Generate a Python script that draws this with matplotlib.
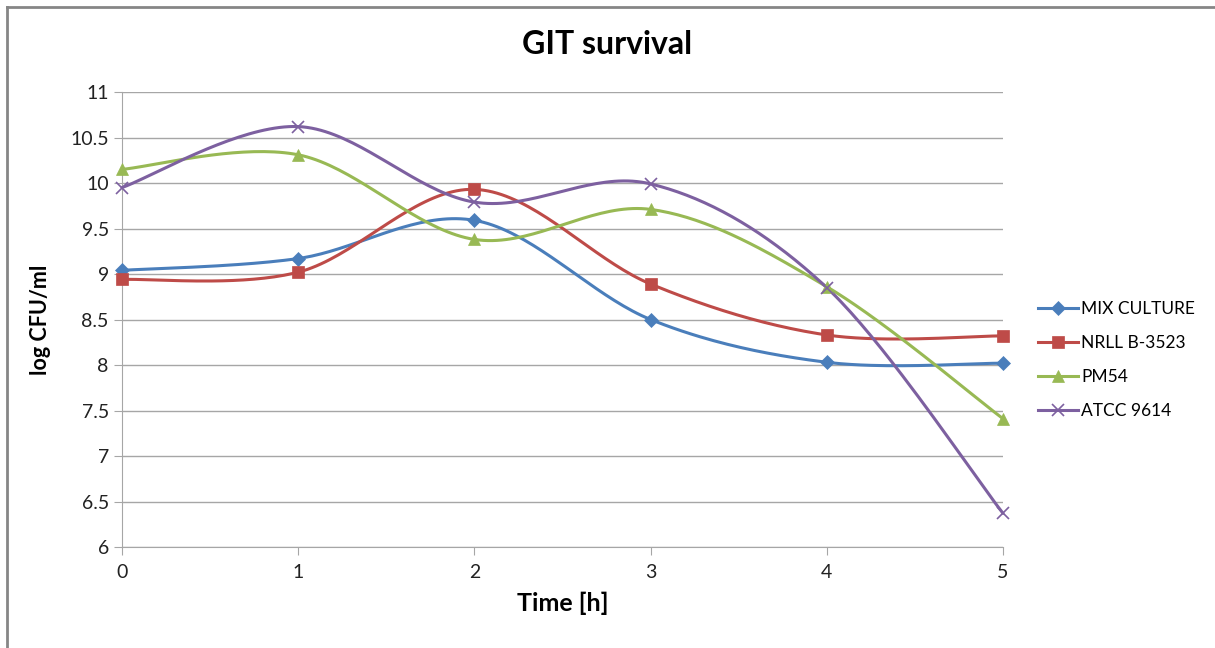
import numpy as np
import matplotlib.pyplot as plt
from matplotlib.lines import Line2D

plt.rcParams['font.family'] = ['Lato', 'DejaVu Sans']

hours = [0, 1, 2, 3, 4, 5]
mix_culture = [9.04, 9.17, 9.59, 8.50, 8.03, 8.02]
nrll_b3523 = [8.94, 9.02, 9.93, 8.89, 8.33, 8.32]
pm54 = [10.15, 10.31, 9.38, 9.71, 8.86, 7.41]
atcc_9614 = [9.95, 10.62, 9.79, 9.99, 8.85, 6.37]

series = [
    ("MIX CULTURE", mix_culture, "#4A7EBB", "D", 7),
    ("NRLL B-3523", nrll_b3523, "#BE4B48", "s", 8),
    ("PM54", pm54, "#98B954", "^", 9),
    ("ATCC 9614", atcc_9614, "#7D60A0", "x", 9),
]


def smooth(x, y, n=40):
    # Excel-style bezier smoothing through the points
    p = np.column_stack([x, y]).astype(float)
    ext = np.vstack([p[0], p, p[-1]])
    out = []
    t = np.linspace(0, 1, n)[:, None]
    for i in range(len(p) - 1):
        p0, p3 = p[i], p[i + 1]
        c1 = p0 + (ext[i + 2] - ext[i]) / 6
        c2 = p3 - (ext[i + 3] - ext[i + 1]) / 6
        seg = ((1 - t) ** 3) * p0 + 3 * ((1 - t) ** 2) * t * c1 + 3 * (1 - t) * t ** 2 * c2 + t ** 3 * p3
        out.append(seg if i == 0 else seg[1:])
    out = np.vstack(out)
    return out[:, 0], out[:, 1]


fig = plt.figure(figsize=(12.15, 6.48), dpi=100)
ax = fig.add_axes([122 / 1215, 1 - 547 / 648, (1003 - 122) / 1215, (547 - 92) / 648])

handles = []
for name, vals, col, mk, ms in series:
    sx, sy = smooth(hours, vals)
    ax.plot(sx, sy, color=col, lw=2.2, solid_capstyle="round", zorder=3, clip_on=False)
    mew = 1.2 if mk == "x" else 0.5
    ax.plot(hours, vals, linestyle="none", marker=mk, ms=ms, color=col, mec=col, mew=mew, zorder=4, clip_on=False)
    handles.append(Line2D([0], [0], color=col, lw=2.2, marker=mk, ms=ms, mec=col, mew=mew))

ax.set_xlim(0, 5)
ax.set_ylim(6, 11)
ax.set_xticks(hours)
ax.set_yticks(np.arange(6, 11.01, 0.5))
ax.set_yticklabels([f"{v:g}" for v in np.arange(6, 11.01, 0.5)])
ax.grid(axis="y", color="#A6A6A6", lw=1)
ax.set_axisbelow(True)
for s in ["top", "right"]:
    ax.spines[s].set_visible(False)
for s in ["left", "bottom"]:
    ax.spines[s].set_color("#A6A6A6")
ax.tick_params(colors="#A6A6A6", labelcolor="#222222", labelsize=14, length=6, direction="out")
ax.tick_params(axis="x", pad=6)

fig.text(0.5, 1 - 45 / 648, "GIT survival", ha="center", va="center", fontsize=23, fontweight="bold")
ax.set_xlabel("Time [h]", fontsize=18, fontweight="bold", labelpad=8)
ax.set_ylabel("log CFU/ml", fontsize=15.5, fontweight="bold", labelpad=14)

fig.legend(handles, [s[0] for s in series], loc="center left", bbox_to_anchor=(1038 / 1215, 1 - 360 / 648),
           frameon=False, fontsize=12.5, handlelength=2.3, labelspacing=1.05, handletextpad=0.2,
           borderpad=0, borderaxespad=0)

# outer chart border
fig.add_artist(Line2D([7 / 1215, 7 / 1215], [-0.1, 1 - 7 / 648], color="#868686", lw=2))
fig.add_artist(Line2D([7 / 1215, 1.1], [1 - 7 / 648, 1 - 7 / 648], color="#868686", lw=2))

fig.savefig("out.png", dpi=100)
